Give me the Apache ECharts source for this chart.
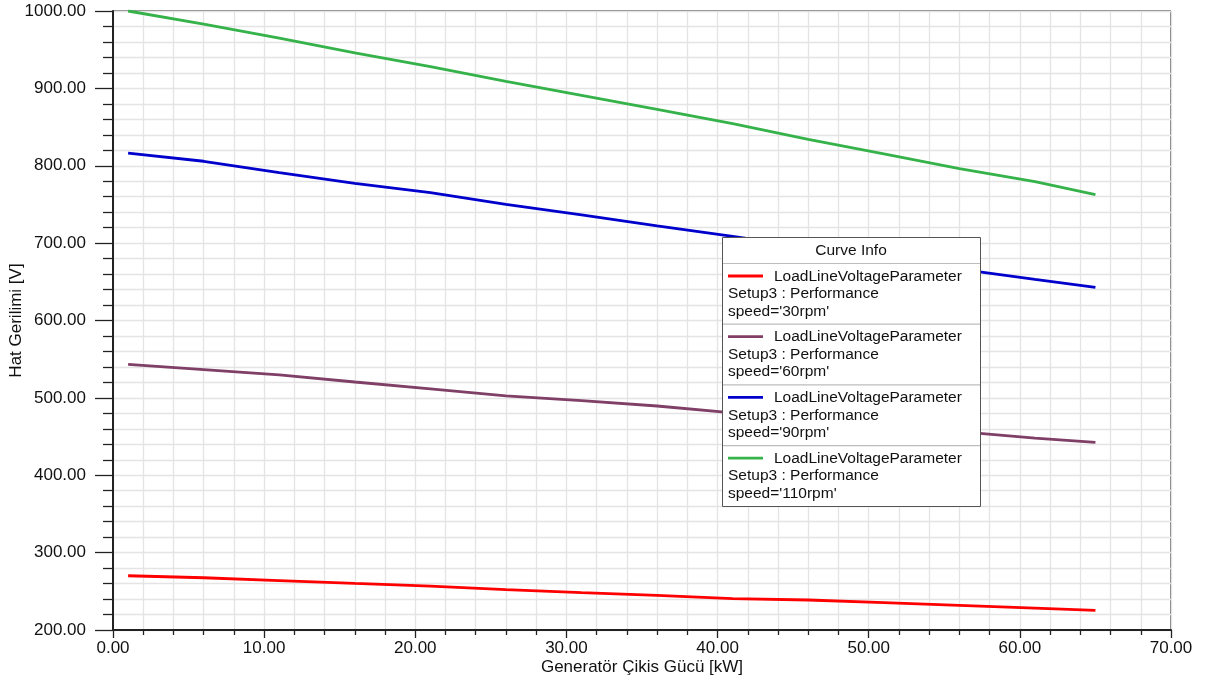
<!DOCTYPE html>
<html>
<head>
<meta charset="utf-8">
<script src="https://cdn.jsdelivr.net/npm/echarts@6/dist/echarts.min.js"></script>
<style>
  html, body { margin: 0; padding: 0; background: #fff; }
  #chart { width: 1206px; height: 686px; }
</style>
</head>
<body>
<div id="chart"></div>
<script>
// Load output power samples [kW]
const powerKW = [1, 6, 11, 16, 21, 26, 31, 36, 41, 46, 51, 56, 61, 65];

// Line voltage [V] at each speed
const volt30 = [270.1, 267.5, 263.8, 260.2, 256.8, 252.2, 248.3, 244.8, 240.5, 238.8, 235.3, 231.9, 228.4, 225.4];
const volt60 = [543.4, 536.5, 529.8, 520.5, 511.5, 502.5, 496.4, 489.5, 480.5, 472.5, 464.5, 456.5, 448.1, 442.6];
const volt90 = [816.2, 805.8, 791.0, 777.3, 765.3, 750.2, 736.4, 722.2, 708.6, 694.5, 680.4, 666.3, 653.2, 642.9];
const volt110 = [1000.0, 983.0, 965.0, 946.0, 928.0, 909.0, 891.0, 873.0, 854.5, 834.0, 815.5, 796.2, 779.4, 762.6];

const speeds = ["30rpm", "60rpm", "90rpm", "110rpm"];
const curveName = "LoadLineVoltageParameter";
const setupName = "Setup3 : Performance";
const colors = ["#ff0000", "#7f3f66", "#0000cd", "#36b24a"];
const seriesValues = [volt30, volt60, volt90, volt110];

const xAxisName = "Generatör Çikis Gücü [kW]";
const yAxisName = "Hat Gerilimi [V]";
const legendTitle = "Curve Info";

const FONT = "Liberation Sans, Arial, sans-serif";

const series = seriesValues.map((vals, i) => ({
  name: curveName + " " + speeds[i],
  type: "line",
  data: powerKW.map((x, k) => [x, vals[k]]),
  showSymbol: false,
  symbol: "none",
  lineStyle: { color: colors[i], width: 2.8 },
  itemStyle: { color: colors[i] },
  z: 3,
  animation: false
}));

// Curve info box
const box = { left: 722, top: 237, width: 258, height: 269 };
const headH = 26, rowH = 60.7;
const legendFont = "15.5px " + FONT;
const graphic = [];
graphic.push({
  type: "rect", z: 100,
  shape: { x: box.left + 0.5, y: box.top + 0.5, width: box.width, height: box.height },
  style: { fill: "#ffffff", stroke: "#555555", lineWidth: 1 }
});
graphic.push({
  type: "text", z: 101,
  style: { x: box.left + box.width / 2, y: box.top + headH / 2 + 1, text: legendTitle,
           font: legendFont, fill: "#111", align: "center", verticalAlign: "middle" }
});
speeds.forEach((sp, i) => {
  const top = box.top + headH + i * rowH;
  graphic.push({
    type: "line", z: 101,
    shape: { x1: box.left + 1, y1: top + 0.5, x2: box.left + box.width, y2: top + 0.5 },
    style: { stroke: "#bdbdbd", lineWidth: 1.2 }
  });
  graphic.push({
    type: "line", z: 101,
    shape: { x1: box.left + 6, y1: top + 13, x2: box.left + 41, y2: top + 13 },
    style: { stroke: colors[i], lineWidth: 2.8 }
  });
  graphic.push({
    type: "text", z: 101,
    style: { x: box.left + 52, y: top + 13.5, text: curveName,
             font: legendFont, fill: "#111", verticalAlign: "middle" }
  });
  graphic.push({
    type: "text", z: 101,
    style: { x: box.left + 6, y: top + 31, text: setupName,
             font: legendFont, fill: "#111", verticalAlign: "middle" }
  });
  graphic.push({
    type: "text", z: 101,
    style: { x: box.left + 6, y: top + 48.5, text: "speed='" + sp + "'",
             font: legendFont, fill: "#111", verticalAlign: "middle" }
  });
});

const chart = echarts.init(document.getElementById("chart"), null, { renderer: "canvas" });
chart.setOption({
  backgroundColor: "#ffffff",
  animation: false,
  grid: {
    left: 113, right: 35, top: 11, bottom: 56,
    containLabel: false, outerBoundsMode: "none",
    show: true, borderColor: "#000", borderWidth: 1, backgroundColor: "transparent"
  },
  xAxis: {
    type: "value", min: 0, max: 70, interval: 10,
    name: xAxisName, nameLocation: "middle", nameGap: 29, nameMoveOverlap: false,
    nameTextStyle: { fontSize: 17, fontFamily: FONT, color: "#111" },
    axisLine: { show: true, onZero: false, lineStyle: { color: "#222", width: 2 } },
    axisTick: { show: true, length: 8, lineStyle: { color: "#222", width: 1.3 } },
    minorTick: { show: true, splitNumber: 5, length: 5, lineStyle: { color: "#222", width: 1.3 } },
    axisLabel: { margin: 10, fontSize: 17, fontFamily: FONT, color: "#111", formatter: v => v.toFixed(2) },
    splitLine: { show: true, lineStyle: { color: "#e4e4e4", width: 1.3 } },
    minorSplitLine: { show: true, lineStyle: { color: "#e4e4e4", width: 1.3 } }
  },
  yAxis: {
    type: "value", min: 200, max: 1000, interval: 100,
    name: yAxisName, nameLocation: "middle", nameGap: 88, nameRotate: 90, nameMoveOverlap: false,
    nameTextStyle: { fontSize: 17, fontFamily: FONT, color: "#111" },
    axisLine: { show: true, onZero: false, lineStyle: { color: "#222", width: 2 } },
    axisTick: { show: true, length: 18, lineStyle: { color: "#222", width: 1.3 } },
    minorTick: { show: true, splitNumber: 5, length: 10, lineStyle: { color: "#222", width: 1.3 } },
    axisLabel: { margin: 27, fontSize: 17, fontFamily: FONT, color: "#111", formatter: v => v.toFixed(2) },
    splitLine: { show: true, lineStyle: { color: "#e4e4e4", width: 1.3 } },
    minorSplitLine: { show: true, lineStyle: { color: "#e4e4e4", width: 1.3 } }
  },
  series: series,
  graphic: graphic
});
</script>
</body>
</html>
